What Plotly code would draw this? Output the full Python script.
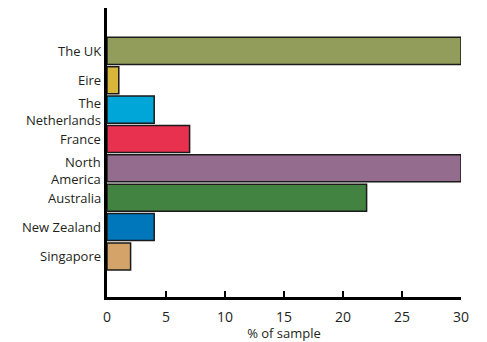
import plotly.graph_objects as go

categories = ["The UK", "Eire", "The<br>Netherlands", "France", "North<br>America",
              "Australia", "New Zealand", "Singapore"]
values = [30, 1, 4, 7, 30, 22, 4, 2]
colors = ["#939D5B", "#D8B63A", "#00A6D7", "#E8304F", "#946C8D",
          "#438341", "#0077BB", "#D3A36A"]
x_ticks = [0, 5, 10, 15, 20, 25, 30]
positions = list(range(len(categories)))

fig = go.Figure(go.Bar(
    x=values, y=positions, orientation="h",
    marker=dict(color=colors, line=dict(color="#1a1a1a", width=1.5)),
    width=0.92,
))

font = "Open Sans, Lato, sans-serif"
txt_color = "#231F20"

# category labels, right aligned
for pos, label in zip(positions, categories):
    multi = "<br>" in label
    fig.add_annotation(
        x=0, xref="paper", y=pos, yref="y", text=label, showarrow=False,
        xanchor="right", yanchor="middle", align="right",
        xshift=-4, yshift=-2 if multi else 0,
        font=dict(family=font, size=13, color=txt_color),
    )

fig.update_layout(
    width=487, height=342,
    margin=dict(l=107, r=26, t=8, b=45, autoexpand=False),
    paper_bgcolor="white", plot_bgcolor="white",
    font=dict(family=font, size=13, color=txt_color),
    showlegend=False,
    xaxis=dict(
        range=[0, 30], tickvals=x_ticks, ticktext=[str(v) for v in x_ticks],
        ticks="inside", ticklen=6, tickwidth=2, tickcolor="black",
        showline=True, linecolor="black", linewidth=2.5,
        showgrid=False, zeroline=False, ticklabelstandoff=5,
        title=dict(text="% of sample", font=dict(size=13), standoff=8),
        tickfont=dict(size=14), automargin=False,
    ),
    yaxis=dict(
        range=[8.38, -1.46], tickvals=positions, showticklabels=False,
        ticks="", showline=True, linecolor="black", linewidth=2.5,
        showgrid=False, zeroline=False, automargin=False,
    ),
)

fig.write_html("out.html")
